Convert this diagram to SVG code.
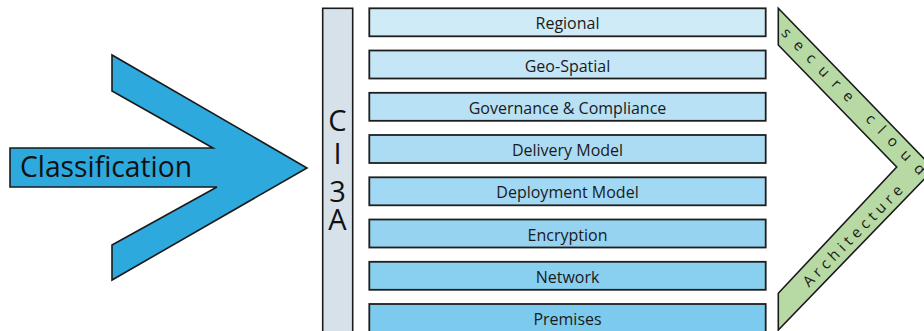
<svg xmlns="http://www.w3.org/2000/svg" width="924" height="331" viewBox="0 0 924 331">
<style>
  .outline { stroke: #1a1a1a; stroke-width: 1.6; stroke-linejoin: miter; }
  .box { stroke: #1e1e1e; stroke-width: 1.8; }
  .lbl { font-family: "Open Sans", "Liberation Sans", sans-serif; font-size: 16px; fill: #1a1a1a; text-anchor: middle; }
  .big { font-family: "Open Sans", "Liberation Sans", sans-serif; fill: #111; }
  .arm { font-family: "Open Sans", "Liberation Sans", sans-serif; font-size: 15px; fill: #1a1a1a; }
</style>
<rect width="924" height="331" fill="#ffffff"/>

<g id="classification">
  <polygon class="outline" fill="#2ea9dd" points="10,148 213,148 112,91 112,55 307,168 112,280 112,245 217,187 10,187"/>
  <text class="big" x="20" y="177" font-size="30" textLength="172" lengthAdjust="spacingAndGlyphs">Classification</text>
</g>

<g id="ci3a">
  <rect class="outline" x="322.7" y="8.3" width="30" height="340" fill="#d6e1e9"/>
  <text class="big" font-size="29" text-anchor="middle" x="337.5" y="131">C</text>
  <text class="big" font-size="29" text-anchor="middle" x="337.5" y="164">I</text>
  <text class="big" font-size="29" text-anchor="middle" x="337.5" y="201.5">3</text>
  <text class="big" font-size="29" text-anchor="middle" x="337.5" y="230">A</text>
</g>

<g id="regional">
  <rect class="box" x="369.3" y="8.3" width="396.4" height="28" fill="#d0ebf8"/>
  <text class="lbl" x="567.5" y="29.3">Regional</text>
</g>
<g id="geo-spatial">
  <rect class="box" x="369.3" y="50.5" width="396.4" height="28" fill="#c4e6f7"/>
  <text class="lbl" x="567.5" y="71.5">Geo-Spatial</text>
</g>
<g id="governance">
  <rect class="box" x="369.3" y="92.8" width="396.4" height="28" fill="#b8e1f5"/>
  <text class="lbl" x="567.5" y="113.8">Governance &amp; Compliance</text>
</g>
<g id="delivery">
  <rect class="box" x="369.3" y="135" width="396.4" height="28" fill="#acdcf4"/>
  <text class="lbl" x="567.5" y="156">Delivery Model</text>
</g>
<g id="deployment">
  <rect class="box" x="369.3" y="177.3" width="396.4" height="28" fill="#a1d8f3"/>
  <text class="lbl" x="567.5" y="198.3">Deployment Model</text>
</g>
<g id="encryption">
  <rect class="box" x="369.3" y="219.5" width="396.4" height="28" fill="#95d3f1"/>
  <text class="lbl" x="567.5" y="240.5">Encryption</text>
</g>
<g id="network">
  <rect class="box" x="369.3" y="261.8" width="396.4" height="28" fill="#88cff0"/>
  <text class="lbl" x="567.5" y="282.8">Network</text>
</g>
<g id="premises">
  <rect class="box" x="369.3" y="304" width="396.4" height="40" fill="#7ccaee"/>
  <text class="lbl" x="567.5" y="325">Premises</text>
</g>

<g id="secure-cloud-architecture">
  <polygon class="outline" fill="#b7d9a4" points="778.3,8.3 934,169 778.3,330 778.3,293.3 896.7,167 778.3,45"/>
  <text class="arm" transform="translate(780.4,33.7) rotate(45.6)" letter-spacing="10">secure cloud</text>
  <text class="arm" transform="translate(808.9,287.8) rotate(-45.5)" letter-spacing="4.5">Architecture</text>
</g>
</svg>
